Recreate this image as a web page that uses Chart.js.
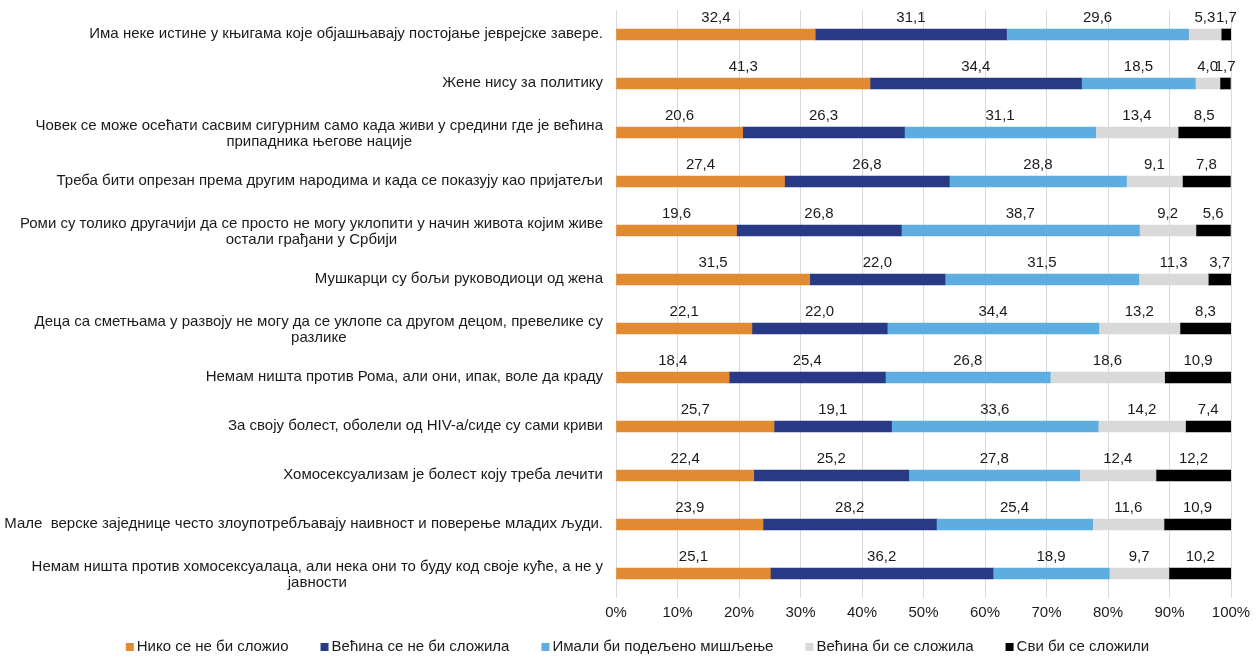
<!DOCTYPE html>
<html>
<head>
<meta charset="utf-8">
<script src="https://cdn.jsdelivr.net/npm/chart.js@4/dist/chart.umd.min.js"></script>
<style>
  html, body { margin: 0; padding: 0; background: #fff; }
  #wrap { width: 1257px; height: 656px; }
</style>
</head>
<body>
<div id="wrap"><canvas id="chart"></canvas></div>
<script>
const categories = [
  ["Има неке истине у књигама које објашњавају постојање јеврејске завере."],
  ["Жене нису за политику"],
  ["Човек се може осећати сасвим сигурним само када живи у средини где је већина", "припадника његове нације"],
  ["Треба бити опрезан према другим народима и када се показују као пријатељи"],
  ["Роми су толико другачији да се просто не могу уклопити у начин живота којим живе", "остали грађани у Србији"],
  ["Мушкарци су бољи руководиоци од жена"],
  ["Деца са сметњама у развоју не могу да се уклопе са другом децом, превелике су", "разлике"],
  ["Немам ништа против Рома, али они, ипак, воле да краду"],
  ["За своју болест, оболели од HIV-а/сиде су сами криви"],
  ["Хомосексуализам је болест коју треба лечити"],
  ["Мале  верске заједнице често злоупотребљавају наивност и поверење младих људи."],
  ["Немам ништа против хомосексуалаца, али нека они то буду код своје куће, а не у", "јавности"]
];

const seriesNames = [
  "Нико се не би сложио",
  "Већина се не би сложила",
  "Имали би подељено мишљење",
  "Већина би се сложила",
  "Сви би се сложили"
];

const nikoNeBi   = [32.4, 41.3, 20.6, 27.4, 19.6, 31.5, 22.1, 18.4, 25.7, 22.4, 23.9, 25.1];
const vecinaNeBi = [31.1, 34.4, 26.3, 26.8, 26.8, 22.0, 22.0, 25.4, 19.1, 25.2, 28.2, 36.2];
const podeljeno  = [29.6, 18.5, 31.1, 28.8, 38.7, 31.5, 34.4, 26.8, 33.6, 27.8, 25.4, 18.9];
const vecinaBi   = [5.3, 4.0, 13.4, 9.1, 9.2, 11.3, 13.2, 18.6, 14.2, 12.4, 11.6, 9.7];
const sviBi      = [1.7, 1.7, 8.5, 7.8, 5.6, 3.7, 8.3, 10.9, 7.4, 12.2, 10.9, 10.2];

const xTicks = [0, 10, 20, 30, 40, 50, 60, 70, 80, 90, 100];

const colors = ["#E28A32", "#283A85", "#5DADE0", "#D9D9D9", "#000000"];
const FONT = "'Liberation Sans', Arial, sans-serif";
const TEXT = "#1a1a1a";
const FS = 15;

Chart.defaults.font.family = FONT;
Chart.defaults.font.size = FS;
Chart.defaults.color = TEXT;

// category labels: block right aligned, lines centered inside the block
const catLabels = {
  id: "catLabels",
  afterDraw(chart) {
    const ctx = chart.ctx;
    const y = chart.scales.y;
    const right = chart.chartArea.left - 13;
    ctx.save();
    ctx.font = FS + "px " + FONT;
    ctx.fillStyle = TEXT;
    ctx.textAlign = "center";
    ctx.textBaseline = "middle";
    chart.data.labels.forEach((lines, i) => {
      const w = Math.max(...lines.map(l => ctx.measureText(l).width));
      const cx = right - w / 2;
      const lh = 16;
      const top = y.getPixelForValue(i) - 1 - (lines.length - 1) * lh / 2 + (lines.length - 1) * 2;
      lines.forEach((l, j) => ctx.fillText(l, cx, top + j * lh));
    });
    ctx.restore();
  }
};

// value labels above each segment
const valueLabels = {
  id: "valueLabels",
  afterDatasetsDraw(chart) {
    const ctx = chart.ctx;
    ctx.save();
    ctx.font = FS + "px " + FONT;
    ctx.fillStyle = TEXT;
    ctx.textAlign = "center";
    ctx.textBaseline = "middle";
    chart.data.datasets.forEach((ds, di) => {
      const meta = chart.getDatasetMeta(di);
      meta.data.forEach((bar, i) => {
        const v = ds.data[i];
        const cx = (bar.x + bar.base) / 2;
        ctx.fillText(v.toFixed(1).replace(".", ","), cx, bar.y - 17);
      });
    });
    ctx.restore();
  }
};

// legend row at the bottom
const bottomLegend = {
  id: "bottomLegend",
  afterDraw(chart) {
    const ctx = chart.ctx;
    ctx.save();
    ctx.font = FS + "px " + FONT;
    ctx.textBaseline = "middle";
    ctx.textAlign = "left";
    const box = 8, gap = 3, spacing = 32;
    const items = chart.data.datasets.map(ds => ({
      text: ds.label, color: ds.backgroundColor, w: box + gap + ctx.measureText(ds.label).width
    }));
    const total = items.reduce((s, it) => s + it.w, 0) + spacing * (items.length - 1);
    let x = chart.width / 2 + 9 - total / 2;
    const yc = 647;
    items.forEach(it => {
      ctx.fillStyle = it.color;
      ctx.fillRect(x, yc - 4, box, box);
      ctx.fillStyle = TEXT;
      ctx.fillText(it.text, x + box + gap, yc);
      x += it.w + spacing;
    });
    ctx.restore();
  }
};

const seriesData = [nikoNeBi, vecinaNeBi, podeljeno, vecinaBi, sviBi];

new Chart(document.getElementById("chart"), {
  type: "bar",
  data: {
    labels: categories,
    datasets: seriesData.map((d, i) => ({
      label: seriesNames[i],
      data: d,
      backgroundColor: colors[i],
      borderWidth: 0,
      barThickness: 11
    }))
  },
  options: {
    indexAxis: "y",
    responsive: true,
    maintainAspectRatio: false,
    animation: false,
    layout: { padding: { top: 10, right: 26, left: 0, bottom: 28 } },
    scales: {
      x: {
        stacked: true,
        min: 0,
        max: 100,
        afterBuildTicks(scale) {
          scale.ticks = xTicks.map(v => ({ value: v }));
        },
        ticks: {
          callback: v => v + "%",
          padding: 6,
          maxRotation: 0
        },
        grid: { color: "#D9D9D9", drawTicks: false },
        border: { display: false }
      },
      y: {
        stacked: true,
        ticks: { display: false },
        grid: { display: false },
        border: { display: false },
        afterFit(scale) { scale.width = 616; }
      }
    },
    plugins: {
      legend: { display: false },
      tooltip: { enabled: false }
    }
  },
  plugins: [catLabels, valueLabels, bottomLegend]
});
</script>
</body>
</html>
